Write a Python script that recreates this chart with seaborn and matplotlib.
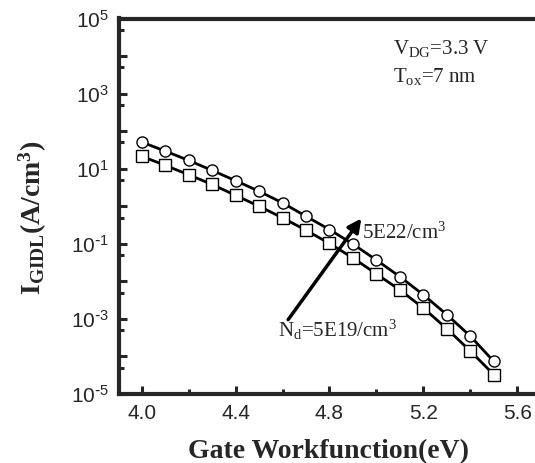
import numpy as np
import pandas as pd
import matplotlib
matplotlib.use("Agg")
import matplotlib.pyplot as plt
import matplotlib.ticker as mticker
import seaborn as sns

# ---- data ----
workfunction = [4.0, 4.1, 4.2, 4.3, 4.4, 4.5, 4.6, 4.7, 4.8, 4.9,
                5.0, 5.1, 5.2, 5.3, 5.4, 5.5]
igidl_5e22 = [51, 29.5, 16.6, 9.0, 4.8, 2.5, 1.23, 0.54, 0.24, 0.098,
              0.037, 0.0133, 0.0044, 0.0013, 0.00035, 0.000074]
igidl_5e19 = [21.4, 12.3, 6.9, 3.8, 1.95, 1.0, 0.49, 0.23, 0.102, 0.042,
              0.0158, 0.0059, 0.00195, 0.00055, 0.00014, 0.000033]
series_names = ["5E22", "5E19"]
x_ticks = [4.0, 4.4, 4.8, 5.2, 5.6]

df = pd.concat([
    pd.DataFrame({"wf": workfunction, "I": igidl_5e22, "Nd": series_names[0]}),
    pd.DataFrame({"wf": workfunction, "I": igidl_5e19, "Nd": series_names[1]}),
])

sns.set_style("ticks")
plt.rcParams["font.family"] = ["Liberation Sans", "DejaVu Sans"]
plt.rcParams["mathtext.default"] = "regular"
plt.rcParams["axes.unicode_minus"] = False

fig = plt.figure(figsize=(5.35, 4.63), dpi=100)
ax = fig.add_axes([119 / 535, 69 / 463, 1 - 119 / 535, 375.5 / 463])

sns.lineplot(data=df, x="wf", y="I", style="Nd",
             markers={"5E22": "o", "5E19": "s"}, dashes=False,
             color="black", linewidth=2.0, markersize=8,
             markerfacecolor="white", markeredgecolor="black",
             markeredgewidth=1.0, legend=False, ax=ax)
for ln in ax.lines:
    ln.set_markerfacecolor("white")
    ln.set_markeredgecolor("black")
    ln.set_markeredgewidth(1.0)
    ln.set_color("black")

ax.set_yscale("log")
ax.set_xlim(3.903, 5.676)
ax.set_ylim(1e-5, 1e5)

ax.yaxis.set_major_locator(mticker.LogLocator(base=10, numticks=30))
ax.yaxis.set_minor_locator(mticker.LogLocator(base=10, subs=[5.0], numticks=30))


def yfmt(v, pos):
    e = int(round(np.log10(v)))
    if e % 2 == 0:
        return ""
    if e < 0:
        return "10$^{\\text{-}%d}$" % (-e)
    return "10$^{%d}$" % e


ax.yaxis.set_major_formatter(mticker.FuncFormatter(yfmt))
ax.yaxis.set_minor_formatter(mticker.NullFormatter())
ax.set_xticks(x_ticks)
ax.set_xticklabels([f"{t:.1f}" for t in x_ticks])
ax.xaxis.set_minor_locator(mticker.FixedLocator([4.2, 4.6, 5.0, 5.4]))

ax.tick_params(which="major", direction="in", length=6, width=2.2,
               labelsize=15, pad=7)
ax.tick_params(which="minor", direction="in", length=3.5, width=2.2)
ax.tick_params(axis="y", which="both", right=False)
ax.tick_params(axis="x", which="both", top=False)

for s in ["left", "bottom", "top"]:
    ax.spines[s].set_linewidth(3)
    ax.spines[s].set_visible(True)
ax.spines["right"].set_visible(False)
ax.set_xlabel("")
ax.set_ylabel("")

serif = ["Liberation Serif", "DejaVu Serif"]

ax.annotate("", xy=(4.936, 10 ** -0.326), xytext=(4.624, 10 ** -3.02),
            arrowprops=dict(arrowstyle="-|>", lw=2.5, color="black",
                            mutation_scale=20, shrinkA=0, shrinkB=0))
ax.text(4.94, 10 ** -0.86, "5E22/cm$^{3}$", family=serif, fontsize=15,
        ha="left", va="baseline")
ax.text(4.58, 10 ** -3.47, "N$_{d}$=5E19/cm$^{3}$", family=serif, fontsize=15,
        ha="left", va="baseline")
ax.text(5.07, 10 ** 4.05, "V$_{DG}$=3.3 V", family=serif, fontsize=15,
        ha="left", va="baseline")
ax.text(5.07, 10 ** 3.32, "T$_{ox}$=7 nm", family=serif, fontsize=15,
        ha="left", va="baseline")

fig.text(328 / 535, 1 - 458 / 463, "Gate Workfunction(eV)", family=serif,
         fontsize=20, fontweight="bold", ha="center", va="baseline")
fig.text(33 / 535, 1 - 218 / 463, "I$_{GIDL}$(A/cm$^{3}$)", family=serif,
         fontsize=20, fontweight="bold", ha="center", va="center",
         rotation=90)

fig.savefig("out.png", dpi=100)
